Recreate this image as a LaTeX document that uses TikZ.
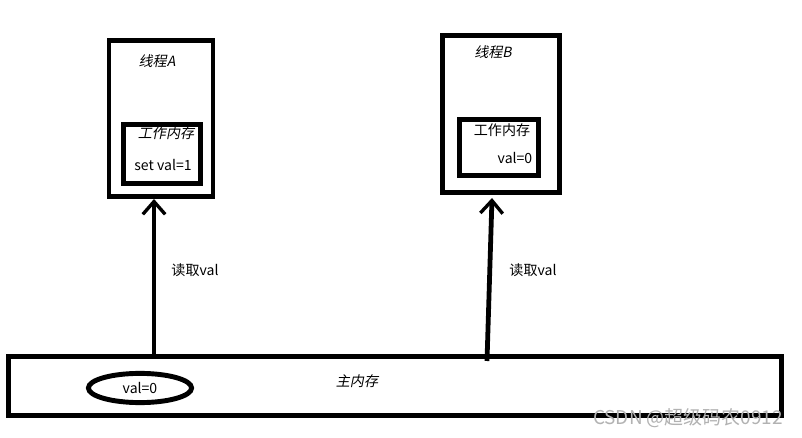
\documentclass[tikz,border=0pt]{standalone}
\usepackage{fontspec}
\setmainfont{Noto Sans CJK SC}
\newfontfamily\slantcjk[FakeSlant=0.2]{Noto Sans CJK SC}
\usetikzlibrary{arrows.meta,shapes.geometric}
\tikzset{
  membox/.style={draw,line width=3.5pt,minimum width=#1},
  readarrow/.style={line width=2.4pt,-{Straight Barb[length=3.2mm,width=5.6mm,line width=2.4pt]}},
  lbl/.style={font=\fontsize{10pt}{12pt}\selectfont,inner sep=0pt}
}
\begin{document}
\begin{tikzpicture}[x=0.025cm,y=-0.025cm]
\useasboundingbox[fill=white] (0,0) rectangle (802,438);
% threads
\node[membox=2.6cm,minimum height=3.9cm] (threadA) at (161,118.5) {};
\node[lbl,font=\slantcjk\fontsize{10pt}{12pt}\selectfont] (nameA) at (157,61) {线程A};
\node[membox=1.92cm,minimum height=1.47cm] (workA) at (162,154) {};
\node[lbl,font=\slantcjk\fontsize{10pt}{12pt}\selectfont] (workAlbl) at (166,133) {工作内存};
\node[lbl] (valA) at (163,165) {set val=1};
\node[membox=2.92cm,minimum height=3.92cm] (threadB) at (501,114) {};
\node[lbl,font=\slantcjk\fontsize{10pt}{12pt}\selectfont] (nameB) at (493,52) {线程B};
\node[membox=1.97cm,minimum height=1.4cm] (workB) at (499,147.5) {};
\node[lbl] (workBlbl) at (502,130) {工作内存};
\node[lbl] (valB) at (515,158) {val=0};
% main memory
\node[membox=19.32cm,minimum height=1.47cm] (mainmem) at (395,386) {};
\node[lbl,font=\slantcjk\fontsize{10pt}{12pt}\selectfont] (mainlbl) at (357,381) {主内存};
\node[draw,ellipse,line width=3.5pt,minimum width=2.58cm,minimum height=0.73cm,lbl] (mainval) at (140,388) {val=0};
% reads
\coordinate (a0) at (154,354);
\coordinate (b0) at (487,361);
\coordinate (b1) at (492,198);
\draw[readarrow] (a0) -- (a0 |- threadA.south);
\draw[readarrow,line width=3.4pt] (b0) -- (b1);
\node[lbl] (readA) at (195,270) {读取val};
\node[lbl] (readB) at (533,270) {读取val};
\node[lbl,font=\fontsize{13.5pt}{15pt}\selectfont,text=black!30] (mark) at (688,418) {CSDN @超级码农0912};
\end{tikzpicture}
\end{document}
